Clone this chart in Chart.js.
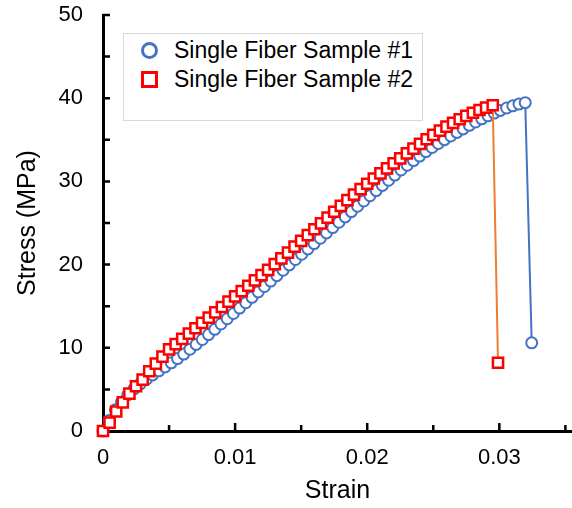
<!DOCTYPE html>
<html>
<head>
<meta charset="utf-8">
<script src="https://cdn.jsdelivr.net/npm/chart.js@4.4.1/dist/chart.umd.min.js"></script>
<style>
html,body{margin:0;padding:0;background:#fff;}
#wrap{position:relative;width:572px;height:508px;overflow:hidden;background:#fff;}
#chart{position:absolute;left:0;top:0;}
.lg{position:absolute;font-family:"Liberation Sans",Arial,sans-serif;color:#000;}
#lgbox{left:123px;top:33px;width:298px;height:86px;border:1px solid #d9d9d9;background:#fff;}
.mk{position:absolute;box-sizing:border-box;width:17px;height:17px;background:#fff;}
.circ{border:3px solid #4472C4;border-radius:50%;}
.sq{border:3px solid #FF0000;}
.txt{font-size:23px;line-height:28px;height:28px;white-space:nowrap;}
</style>
</head>
<body>
<div id="wrap">
<canvas id="chart" width="572" height="508"></canvas>
<div id="lgbox" class="lg"></div>
<div class="lg mk circ" style="left:141px;top:42px;"></div>
<div class="lg mk sq" style="left:141px;top:71px;"></div>
<div class="lg txt" id="lt1" style="left:174px;top:36px;"></div>
<div class="lg txt" id="lt2" style="left:174px;top:65px;"></div>
</div>
<script>
// ---- data ----
const seriesNames = ['Single Fiber Sample #1', 'Single Fiber Sample #2'];

const s1Strain = [0, 0.00047, 0.00094, 0.00141, 0.00188, 0.00235, 0.00282, 0.00329, 0.00376, 0.00423,
  0.00470, 0.00517, 0.00564, 0.00611, 0.00658, 0.00705, 0.00752, 0.00799, 0.00846, 0.00893,
  0.00940, 0.00987, 0.01034, 0.01081, 0.01128, 0.01175, 0.01222, 0.01269, 0.01316, 0.01363,
  0.01410, 0.01457, 0.01504, 0.01551, 0.01598, 0.01645, 0.01692, 0.01739, 0.01786, 0.01833,
  0.01880, 0.01927, 0.01974, 0.02021, 0.02068, 0.02115, 0.02162, 0.02209, 0.02256, 0.02303,
  0.02350, 0.02397, 0.02444, 0.02491, 0.02538, 0.02585, 0.02632, 0.02679, 0.02726, 0.02773,
  0.02820, 0.02867, 0.02914, 0.02961, 0.03008, 0.03055, 0.03102, 0.03149, 0.03196, 0.03245];
const s1Stress = [0, 1.27, 2.54, 3.48, 4.37, 5.06, 5.67, 6.22, 6.74, 7.23,
  7.70, 8.19, 8.70, 9.24, 9.83, 10.41, 11.00, 11.59, 12.22, 12.86,
  13.49, 14.12, 14.77, 15.42, 16.07, 16.72, 17.37, 18.02, 18.67, 19.32,
  19.96, 20.61, 21.25, 21.89, 22.53, 23.17, 23.81, 24.45, 25.09, 25.73,
  26.37, 27.01, 27.65, 28.28, 28.90, 29.52, 30.14, 30.76, 31.37, 31.94,
  32.50, 33.04, 33.58, 34.08, 34.56, 35.02, 35.46, 35.89, 36.31, 36.74,
  37.14, 37.52, 37.88, 38.21, 38.53, 38.82, 39.08, 39.29, 39.46, 10.6];

const s2Strain = [0, 0.0005, 0.0010, 0.0015, 0.0020, 0.0025, 0.0030, 0.0035, 0.0040, 0.0045,
  0.0050, 0.0055, 0.0060, 0.0065, 0.0070, 0.0075, 0.0080, 0.0085, 0.0090, 0.0095,
  0.0100, 0.0105, 0.0110, 0.0115, 0.0120, 0.0125, 0.0130, 0.0135, 0.0140, 0.0145,
  0.0150, 0.0155, 0.0160, 0.0165, 0.0170, 0.0175, 0.0180, 0.0185, 0.0190, 0.0195,
  0.0200, 0.0205, 0.0210, 0.0215, 0.0220, 0.0225, 0.0230, 0.0235, 0.0240, 0.0245,
  0.0250, 0.0255, 0.0260, 0.0265, 0.0270, 0.0275, 0.0280, 0.0285, 0.0290, 0.0295, 0.0299];
const s2Stress = [0, 1.0, 2.34, 3.44, 4.5, 5.38, 6.18, 7.18, 8.1, 8.95,
  9.8, 10.44, 11.08, 11.71, 12.35, 12.99, 13.63, 14.26, 14.90, 15.54,
  16.18, 16.82, 17.46, 18.10, 18.73, 19.37, 20.05, 20.75, 21.45, 22.15,
  22.85, 23.55, 24.25, 24.95, 25.65, 26.35, 27.05, 27.74, 28.42, 29.08,
  29.72, 30.35, 30.96, 31.57, 32.17, 32.77, 33.37, 33.95, 34.52, 35.07,
  35.60, 36.10, 36.58, 37.04, 37.47, 37.88, 38.25, 38.58, 38.87, 39.15, 8.2];

const xTickValues = [0, 0.01, 0.02, 0.03];
const xTickLabels = ['0', '0.01', '0.02', '0.03'];
const xMinorValues = [0.005, 0.015, 0.025, 0.035];
const yTickValues = [0, 10, 20, 30, 40, 50];
const yTickLabels = ['0', '10', '20', '30', '40', '50'];
const yMinorValues = [5, 15, 25, 35, 45];
const xAxisTitle = 'Strain';
const yAxisTitle = 'Stress (MPa)';

// ---- legend text ----
document.getElementById('lt1').textContent = seriesNames[0];
document.getElementById('lt2').textContent = seriesNames[1];

const FONT = '"Liberation Sans", Arial, sans-serif';

const innerTicks = {
  id: 'innerTicks',
  beforeDatasetsDraw(chart) {
    const ctx = chart.ctx;
    const xs = chart.scales.x, ys = chart.scales.y;
    const ax = chart.chartArea.left, ay = chart.chartArea.bottom;
    ctx.save();
    ctx.strokeStyle = '#000';
    ctx.lineWidth = 2.5;
    ctx.beginPath();
    const drawX = (v, len) => { const p = xs.getPixelForValue(v); ctx.moveTo(p, ay); ctx.lineTo(p, ay - len); };
    const drawY = (v, len) => { const p = ys.getPixelForValue(v); ctx.moveTo(ax, p); ctx.lineTo(ax + len, p); };
    xTickValues.forEach(v => { if (v > 0) drawX(v, 8); });
    xMinorValues.forEach(v => drawX(v, 6));
    yTickValues.forEach(v => { if (v > 0) drawY(v, 7); });
    yMinorValues.forEach(v => drawY(v, 7));
    ctx.stroke();
    ctx.restore();
  }
};

const zeroPad = s => { s.paddingTop = 0; s.paddingBottom = 0; s.paddingLeft = 0; s.paddingRight = 0; };

new Chart(document.getElementById('chart'), {
  type: 'line',
  data: {
    datasets: [
      {
        label: seriesNames[0],
        data: s1Strain.map((x, i) => ({x: x, y: s1Stress[i]})),
        borderColor: '#4472C4',
        borderWidth: 2,
        pointStyle: 'circle',
        pointRadius: 5.5,
        pointBorderWidth: 2,
        pointBorderColor: '#4472C4',
        pointBackgroundColor: '#fff',
        tension: 0,
        clip: false,
        order: 2
      },
      {
        label: seriesNames[1],
        data: s2Strain.map((x, i) => ({x: x, y: s2Stress[i]})),
        borderColor: '#ED7D31',
        borderWidth: 2,
        pointStyle: 'rect',
        pointRadius: 7.2,
        pointBorderWidth: 2.5,
        pointBorderColor: '#FF0000',
        pointBackgroundColor: '#fff',
        tension: 0,
        clip: false,
        order: 1
      }
    ]
  },
  options: {
    responsive: false,
    animation: false,
    devicePixelRatio: 1,
    layout: { autoPadding: false, padding: { top: 15, left: 0, right: 0, bottom: 0 } },
    plugins: { legend: { display: false }, tooltip: { enabled: false } },
    scales: {
      x: {
        type: 'linear',
        min: 0,
        max: 0.0355,
        afterBuildTicks: s => { s.ticks = xTickValues.map(v => ({value: v})); },
        afterFit: s => { s.height = 77; zeroPad(s); },
        ticks: {
          callback: (v, i) => xTickLabels[i],
          font: { family: FONT, size: 22 },
          color: '#000',
          padding: 14,
          maxRotation: 0,
          autoSkip: false
        },
        grid: { display: false, drawTicks: false },
        border: { display: true, color: '#000', width: 3 },
        title: { display: true, text: xAxisTitle, color: '#000', font: { family: FONT, size: 25 }, padding: { top: 0, bottom: 2 } }
      },
      y: {
        type: 'linear',
        min: 0,
        max: 50,
        afterBuildTicks: s => { s.ticks = yTickValues.map(v => ({value: v})); },
        afterFit: s => { s.width = 103; zeroPad(s); },
        ticks: {
          callback: (v, i) => yTickLabels[i],
          font: { family: FONT, size: 22 },
          color: '#000',
          padding: 20,
          autoSkip: false
        },
        grid: { display: false, drawTicks: false },
        border: { display: true, color: '#000', width: 3 },
        title: { display: true, text: yAxisTitle, color: '#000', font: { family: FONT, size: 25 }, padding: { top: 13, bottom: 0 } }
      }
    }
  },
  plugins: [innerTicks]
});
</script>
</body>
</html>
